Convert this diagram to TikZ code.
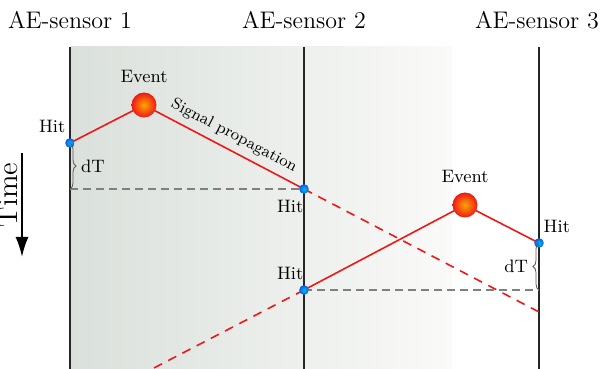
\documentclass[tikz,border=0pt]{standalone}
\usetikzlibrary{positioning,arrows.meta,decorations.pathreplacing}
\definecolor{sigred}{RGB}{238,24,24}
\definecolor{hitblue}{RGB}{10,90,225}
\definecolor{bgleft}{RGB}{218,224,219}
\definecolor{bgright}{RGB}{250,250,249}

\begin{document}
\begin{tikzpicture}[x=0.5pt,y=-0.5pt,font=\small,node distance=1pt,
  sensor/.style={line width=1pt,black!85},
  sig/.style={line width=0.8pt,sigred},
  ext/.style={sig,dash pattern=on 4.5pt off 3.5pt},
  level/.style={line width=0.9pt,gray,dash pattern=on 4pt off 2.5pt},
  hit/.style={circle,inner sep=0pt,minimum size=4.8pt,inner color=cyan!60!hitblue,outer color=hitblue},
  event/.style={circle,inner sep=0pt,minimum size=12.5pt,inner color=orange!70!yellow,outer color=sigred},
  gap/.style={decorate,decoration={brace,amplitude=3pt},gray!70!black,thin},
  head/.style={font=\large}]
  \useasboundingbox (0,0) rectangle (601,369);
  % shaded backdrop behind the first two sensors
  \shade[left color=bgleft,right color=bgright] (70,47) rectangle (452,369);
  % sensors
  \coordinate (s1t) at (70,47);  \coordinate (s1b) at (70,369);
  \coordinate (s2t) at (304,47); \coordinate (s2b) at (304,369);
  \coordinate (s3t) at (539,47); \coordinate (s3b) at (539,369);
  \draw[sensor] (s1t)--(s1b); \draw[sensor] (s2t)--(s2b); \draw[sensor] (s3t)--(s3b);
  \node[head] (n1) at (70,20) {AE-sensor 1};
  \node[head] (n2) at (304,20) {AE-sensor 2};
  \node[head] (n3) at (537,20) {AE-sensor 3};
  % first event
  \coordinate (lvA) at (70,189);
  \coordinate (endA) at (539,312);
  \draw[level] (lvA)--(304,189);
  \draw[ext] (304,189)--(endA);
  \draw[sig] (70,143)--(144,105)
    -- node[above,sloped,font=\footnotesize,text=black,pos=0.52]{Signal propagation} (304,189);
  \node[hit] (hitA) at (70,143) {};
  \node[event] (evA) at (144,105) {};
  \node[hit] (hitB) at (304,189) {};
  \node[above left=0pt and -3pt of hitA] {Hit};
  \node[below left=0pt and -5pt of hitB] {Hit};
  \node[above=1pt of evA] {Event};
  \draw[gap] (hitA.center)--node[right=2pt,text=black]{dT}(lvA);
  % second event
  \coordinate (lvB) at (539,290);
  \coordinate (endB) at (152,369);
  \draw[level] (304,290)--(lvB);
  \draw[ext] (304,290)--(endB);
  \draw[sig] (304,290)--(465,205)--(539,243);
  \node[hit] (hitC) at (304,290) {};
  \node[event] (evB) at (465,205) {};
  \node[hit] (hitD) at (539,243) {};
  \node[above left=0pt and -5pt of hitC] {Hit};
  \node[above right=0pt and -3pt of hitD] {Hit};
  \node[above=1pt of evB] {Event};
  \draw[gap] (lvB)--node[left=2pt,text=black]{dT}(hitD.center);
  % time axis
  \coordinate (t0) at (22,153);
  \coordinate (t1) at (22,257);
  \draw[line width=1pt,-{Latex[length=10pt,width=6.5pt]}] (t0)--(t1);
  \node[font=\Large,rotate=90,anchor=base] (time) at (18,195) {Time};
\end{tikzpicture}
\end{document}
